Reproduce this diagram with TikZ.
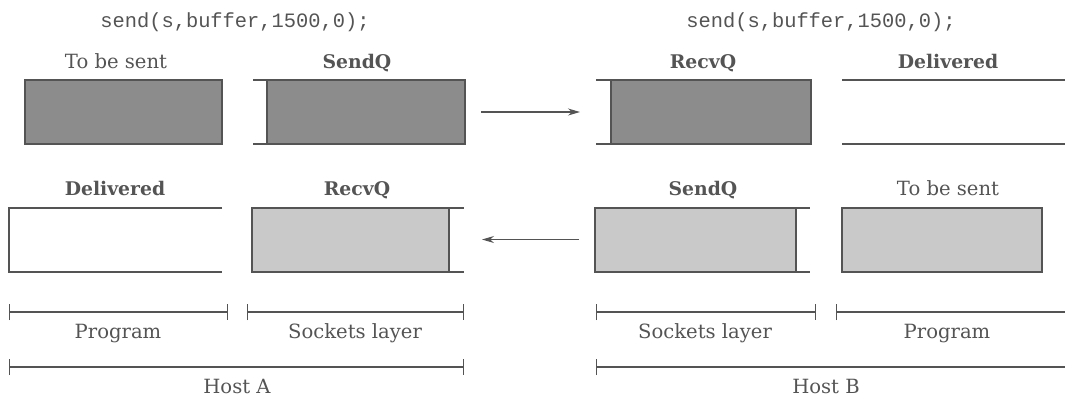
\documentclass[tikz,border=0pt]{standalone}
\usepackage{fontspec}
\setmainfont{DejaVu Serif}
\setmonofont{Liberation Mono}
\usetikzlibrary{arrows.meta}
\definecolor{ink}{gray}{0.33}
\definecolor{darkq}{gray}{0.55}
\definecolor{lightq}{gray}{0.79}
\begin{document}
\begin{tikzpicture}[x=0.5pt,y=-0.5pt,
  font=\fontsize{9.8}{12}\selectfont, text=ink,
  qfill/.style={draw=ink, line width=1pt, minimum height=32pt, inner sep=0pt, outer sep=0pt},
  qopen/.style={minimum height=32pt, inner sep=0pt, outer sep=0pt},
  qline/.style={draw=ink, line width=1pt},
  lbl/.style={anchor=base, inner sep=0pt},
  bold/.style={lbl, font=\fontsize{9.4}{12}\selectfont\bfseries},
  code/.style={anchor=base, inner sep=0pt, font=\fontsize{10.2}{12}\ttfamily},
  flow/.style={draw=ink, line width=0.6pt, -{Stealth[length=6pt,width=3.5pt]}},
  span/.style={draw=ink, line width=0.6pt, {Bar[width=8pt]}-{Bar[width=8pt]}},
  spanopen/.style={draw=ink, line width=0.6pt, {Bar[width=8pt]}-},
]
\useasboundingbox (0,0) rectangle (1065,398);

% system calls
\node[code] (callA) at (235,27) {send(s,buffer,1500,0);};
\node[code] (callB) at (821,27) {send(s,buffer,1500,0);};

% ---- top row: data travelling from host A to host B
\node[qfill, fill=darkq, minimum width=98.5pt] (tbsA) at (123.5,112) {};
\node[qfill, fill=darkq, minimum width=99pt]   (sqA)  at (366,112) {};
\draw[qline] (sqA.north west) -- ++(-14,0);
\draw[qline] (sqA.south west) -- ++(-14,0);
\node[qfill, fill=darkq, minimum width=100pt]  (rqB)  at (711,112) {};
\draw[qline] (rqB.north west) -- ++(-15,0);
\draw[qline] (rqB.south west) -- ++(-15,0);
\node[qopen, minimum width=115pt] (dlB) at (957,112) {};
\draw[qline] (dlB.north west) -- (dlB.north east);
\draw[qline] (dlB.south west) -- (dlB.south east);

\node[lbl]  (tbsAl) at (116,68) {To be sent};
\node[bold] (sqAl)  at (357,68) {SendQ};
\node[bold] (rqBl)  at (703,68) {RecvQ};
\node[bold] (dlBl)  at (948,68) {Delivered};

\draw[flow] ([xshift=8pt]sqA.east) -- ([xshift=-15.5pt]rqB.west);

% ---- bottom row: data travelling from host B to host A
\node[qopen, minimum width=106.5pt] (dlA) at (115.5,239.5) {};
\draw[qline] (dlA.north east) -- (dlA.north west) -- (dlA.south west) -- (dlA.south east);
\node[qfill, fill=lightq, minimum width=98.5pt] (rqA) at (350.5,239.5) {};
\draw[qline] (rqA.north east) -- ++(15,0);
\draw[qline] (rqA.south east) -- ++(15,0);
\node[qfill, fill=lightq, minimum width=100.5pt] (sqB) at (695.5,239.5) {};
\draw[qline] (sqB.north east) -- ++(14,0);
\draw[qline] (sqB.south east) -- ++(14,0);
\node[qfill, fill=lightq, minimum width=100pt] (tbsB) at (942,239.5) {};

\node[bold] (dlAl)  at (115,195) {Delivered};
\node[bold] (rqAl)  at (357,195) {RecvQ};
\node[bold] (sqBl)  at (703,195) {SendQ};
\node[lbl]  (tbsBl) at (948,195) {To be sent};

\draw[flow] ([xshift=-8pt]sqB.west) -- ([xshift=16.5pt]rqA.east);

% ---- layer spans
\coordinate (pA1) at (9,312);   \coordinate (pA2) at (228,312);
\coordinate (sA1) at (247,312); \coordinate (sA2) at (464,312);
\coordinate (sB1) at (596,312); \coordinate (sB2) at (816,312);
\coordinate (pB1) at (836,312); \coordinate (pB2) at (1070,312);
\coordinate (hA1) at (9,367);   \coordinate (hA2) at (464,367);
\coordinate (hB1) at (596,367); \coordinate (hB2) at (1070,367);

\draw[span] (pA1) -- (pA2);
\draw[span] (sA1) -- (sA2);
\draw[span] (sB1) -- (sB2);
\draw[spanopen] (pB1) -- (pB2);
\draw[span] (hA1) -- (hA2);
\draw[spanopen] (hB1) -- (hB2);

\node[lbl] (pAl) at (118,338) {Program};
\node[lbl] (sAl) at (355,338) {Sockets layer};
\node[lbl] (sBl) at (705,338) {Sockets layer};
\node[lbl] (pBl) at (947,338) {Program};
\node[lbl] (hAl) at (237,393) {Host A};
\node[lbl] (hBl) at (826,393) {Host B};
\end{tikzpicture}
\end{document}
